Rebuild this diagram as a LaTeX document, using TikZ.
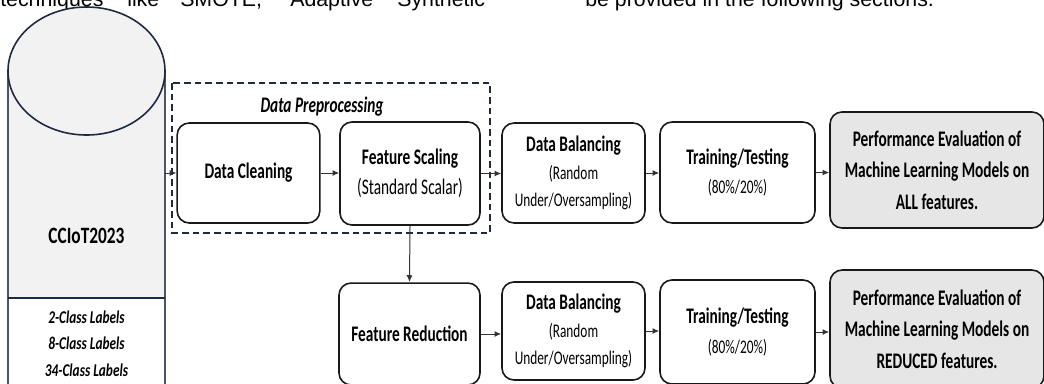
\documentclass[tikz,border=0pt]{standalone}
\usepackage{fontspec}
\setmainfont{Carlito}
\newfontfamily\arialfont{Liberation Sans}
\usetikzlibrary{arrows.meta}
\definecolor{rahmen}{HTML}{1F2A40}
\definecolor{zylgrau}{HTML}{F2F2F2}
\definecolor{evalgrau}{HTML}{E6E6E6}

\begin{document}
\begin{tikzpicture}[x=0.75pt, y=-0.75pt,
		box/.style={draw=black!90, line width=1.2pt, rounded corners=9pt, yscale=1.45, align=center, inner sep=0pt, font=\fontsize{11.5}{15.5}\selectfont},
		evalbox/.style={box, fill=evalgrau, font=\fontsize{11.5}{16.3}\selectfont},
		pfeil/.style={-{Latex[length=5pt,width=4.5pt]}, line width=0.75pt, draw=black!80},
		klasse/.style={yscale=1.35, font=\fontsize{10}{12}\selectfont\bfseries\itshape},
		fliess/.style={anchor=base west, inner sep=0pt, font=\arialfont\fontsize{16}{19}\selectfont}]
		\useasboundingbox (0,0) rectangle (1044,383);
		\clip (0,0) rectangle (1044,383);
		
		%Fliesstext oben (abgeschnitten)
		\foreach \w/\xx [count=\i] in {techniques/0, like/127, {SMOTE,}/180, Adaptive/290, Synthetic/397} {
			\node[fliess] (w\i) at (\xx,6.5) {\w};
		}
		\node[fliess] (w6) at (585,6.5) {be provided in the following sections.};
		
		%Datenbank
		\fill[zylgrau] (8,71) rectangle (165,298);
		\fill[white] (8,298) rectangle (165,400);
		\draw[rahmen!80, line width=1pt] (8,71) -- (8,400) (165,71) -- (165,400);
		\draw[rahmen, line width=1.4pt] (8,298) -- (165,298);
		\draw[rahmen, line width=1.2pt, fill=zylgrau] (86.5,71) ellipse [x radius=78.5, y radius=64];
		\node[yscale=1.35, font=\fontsize{13}{15}\selectfont\bfseries] (ccname) at (86.5,236) {CCIoT2023};
		\foreach \t/\y [count=\i] in {2/317, 8/343, 34/370} {
			\node[klasse] (lab\i) at (86.5,\y) {\t-Class Labels};
		}
		\coordinate (dbout) at (165,173);
		
		%Vorverarbeitung
		\draw[rahmen, dash pattern=on 5pt off 3pt, line width=0.9pt] (172,83) rectangle (490,233);
		\node[yscale=1.45, font=\fontsize{11.5}{14}\selectfont\bfseries\itshape] (prep) at (322,107) {Data Preprocessing};
		
		%obere Reihe
		\node[box, minimum width=107pt, minimum height=51.7pt] (dc) at (248.5,173) {\textbf{Data Cleaning}};
		\node[box, minimum width=105pt, minimum height=53.3pt] (fs) at (410,173.5) {\textbf{Feature Scaling}\\(Standard Scalar)};
		\node[box, minimum width=107.25pt, minimum height=51.7pt, font=\fontsize{10}{14.2}\selectfont] (db1) at (573.5,173) {{\fontsize{11.5}{14.2}\selectfont\bfseries Data Balancing}\\(Random\\Under/Oversampling)};
		\node[box, minimum width=116.25pt, minimum height=52.2pt] (tt1) at (737.5,172.5) {\textbf{Training/Testing}\\{\fontsize{10}{15.5}\selectfont (80\%/20\%)}};
		\node[evalbox, minimum width=160.5pt, minimum height=60pt] (pe1) at (937,170) {\textbf{Performance Evaluation of}\\\textbf{Machine Learning Models on}\\\textbf{ALL features.}};
		
		%untere Reihe
		\node[box, minimum width=105.75pt, minimum height=52.7pt] (fr) at (409.5,334) {\textbf{Feature Reduction}};
		\node[box, minimum width=107.25pt, minimum height=50.7pt, font=\fontsize{10}{14.2}\selectfont] (db2) at (573.5,331) {{\fontsize{11.5}{14.2}\selectfont\bfseries Data Balancing}\\(Random\\Under/Oversampling)};
		\node[box, minimum width=116.25pt, minimum height=53.8pt] (tt2) at (737.5,332) {\textbf{Training/Testing}\\{\fontsize{10}{15.5}\selectfont (80\%/20\%)}};
		\node[evalbox, minimum width=160.5pt, minimum height=61pt] (pe2) at (937,329) {\textbf{Performance Evaluation of}\\\textbf{Machine Learning Models on}\\\textbf{REDUCED features.}};
		
		%Pfeile
		\draw[pfeil] (dbout) -- (dbout -| dc.west);
		\foreach \a/\b in {dc/fs, fs/db1, db1/tt1, tt1/pe1, fr/db2, db2/tt2, tt2/pe2} {
			\draw[pfeil] (\a.east) -- (\a.east -| \b.west);
		}
		\draw[pfeil] (fs.south) -- (fr.north);
	\end{tikzpicture}
\end{document}
